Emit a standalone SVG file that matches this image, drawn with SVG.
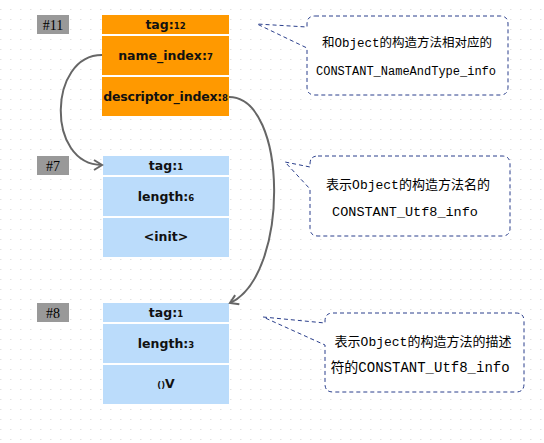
<svg xmlns="http://www.w3.org/2000/svg" width="544" height="443" viewBox="0 0 544 443">
<defs>
<pattern id="grid" x="0" y="0" width="10" height="10" patternUnits="userSpaceOnUse">
<rect x="0" y="9" width="1.5" height="1" fill="#e2e2e2"/>
</pattern>
<marker id="chev" viewBox="0 0 12 12" refX="10" refY="6" markerWidth="12" markerHeight="12" markerUnits="userSpaceOnUse" orient="auto">
<path d="M2,1 L10,6 L2,11" fill="none" stroke="#666" stroke-width="2"/>
</marker>
</defs>
<style>
.lbl{fill:#999999}
.lt{font-family:"Liberation Serif",serif;font-size:14px;fill:#000000;text-anchor:middle}
.or{fill:#ff9900}
.bl{fill:#bbdcfb}
.ft{font-family:"DejaVu Sans","Liberation Sans",sans-serif;font-weight:bold;font-size:12.5px;fill:#111;text-anchor:middle}
.sm{font-size:8.5px}
.co{fill:#fff;stroke:#2b3f8c;stroke-width:1;stroke-dasharray:4 3}
.ct{font-family:"Liberation Mono","Noto Sans CJK SC",monospace;fill:#000;text-anchor:middle}
.conn{fill:none;stroke:#666;stroke-width:2;marker-end:url(#chev)}
</style>
<rect width="544" height="443" fill="#fff"/>
<rect width="544" height="443" fill="url(#grid)"/>

<g id="n11">
<rect class="lbl" x="37" y="15" width="32" height="19"/>
<text class="lt" x="53" y="29.5">#11</text>
<rect class="or" x="102" y="15" width="127" height="19"/>
<rect class="or" x="102" y="36" width="127" height="39"/>
<rect class="or" x="102" y="77" width="127" height="39"/>
<text class="ft" x="165.5" y="28.5">tag:<tspan class="sm">12</tspan></text>
<text class="ft" x="165.5" y="59.5">name_index:<tspan class="sm">7</tspan></text>
<text class="ft" x="165.5" y="100.5" font-size="11.5" letter-spacing="-0.2">descriptor_index:<tspan class="sm">8</tspan></text>
</g>

<g id="n7">
<rect class="lbl" x="37" y="156" width="32" height="19"/>
<text class="lt" x="53" y="170.5">#7</text>
<rect class="bl" x="103" y="156" width="126" height="19"/>
<rect class="bl" x="103" y="177" width="126" height="39"/>
<rect class="bl" x="103" y="218" width="126" height="39"/>
<text class="ft" x="166" y="169.5">tag:<tspan class="sm">1</tspan></text>
<text class="ft" x="166" y="201">length:<tspan class="sm">6</tspan></text>
<text class="ft" x="166" y="241" font-size="11">&lt;init&gt;</text>
</g>

<g id="n8">
<rect class="lbl" x="37" y="303" width="32" height="19"/>
<text class="lt" x="53" y="317.5">#8</text>
<rect class="bl" x="103" y="303" width="126" height="19"/>
<rect class="bl" x="103" y="324" width="126" height="39"/>
<rect class="bl" x="103" y="365" width="126" height="39"/>
<text class="ft" x="166" y="316.5">tag:<tspan class="sm">1</tspan></text>
<text class="ft" x="166" y="348">length:<tspan class="sm">3</tspan></text>
<text class="ft" x="166" y="388"><tspan class="sm">()</tspan>V</text>
</g>

<g id="c1">
<path class="co" d="M315,16 H500 Q508,16 508,24 V87 Q508,95 500,95 H315 Q307,95 307,87 V48 L257,24 L307,27 V24 Q307,16 315,16 Z"/>
<text class="ct" x="407" y="47" font-size="12.5">和Object的构造方法相对应的</text>
<text class="ct" x="406" y="75" font-size="12">CONSTANT_NameAndType_info</text>
</g>

<g id="c2">
<path class="co" d="M318,156 H502 Q510,156 510,164 V228 Q510,236 502,236 H318 Q310,236 310,228 V189 L285,162 L310,167 V164 Q310,156 318,156 Z"/>
<text class="ct" x="408" y="189" font-size="13">表示Object的构造方法名的</text>
<text class="ct" x="405" y="216" font-size="13.5">CONSTANT_Utf8_info</text>
</g>

<g id="c3">
<path class="co" d="M333,313 H516 Q524,313 524,321 V384 Q524,392 516,392 H333 Q325,392 325,384 V345 L263,317 L325,323 V321 Q325,313 333,313 Z"/>
<text class="ct" x="423" y="346" font-size="13">表示Object的构造方法的描述</text>
<text class="ct" x="420" y="372" font-size="14">符的CONSTANT_Utf8_info</text>
</g>

<g id="connectors">
<path class="conn" d="M102,55 C48,55 46,165 102,165"/>
<path class="conn" d="M229,97 C288,97 290,275 230,303"/>
</g>
</svg>
